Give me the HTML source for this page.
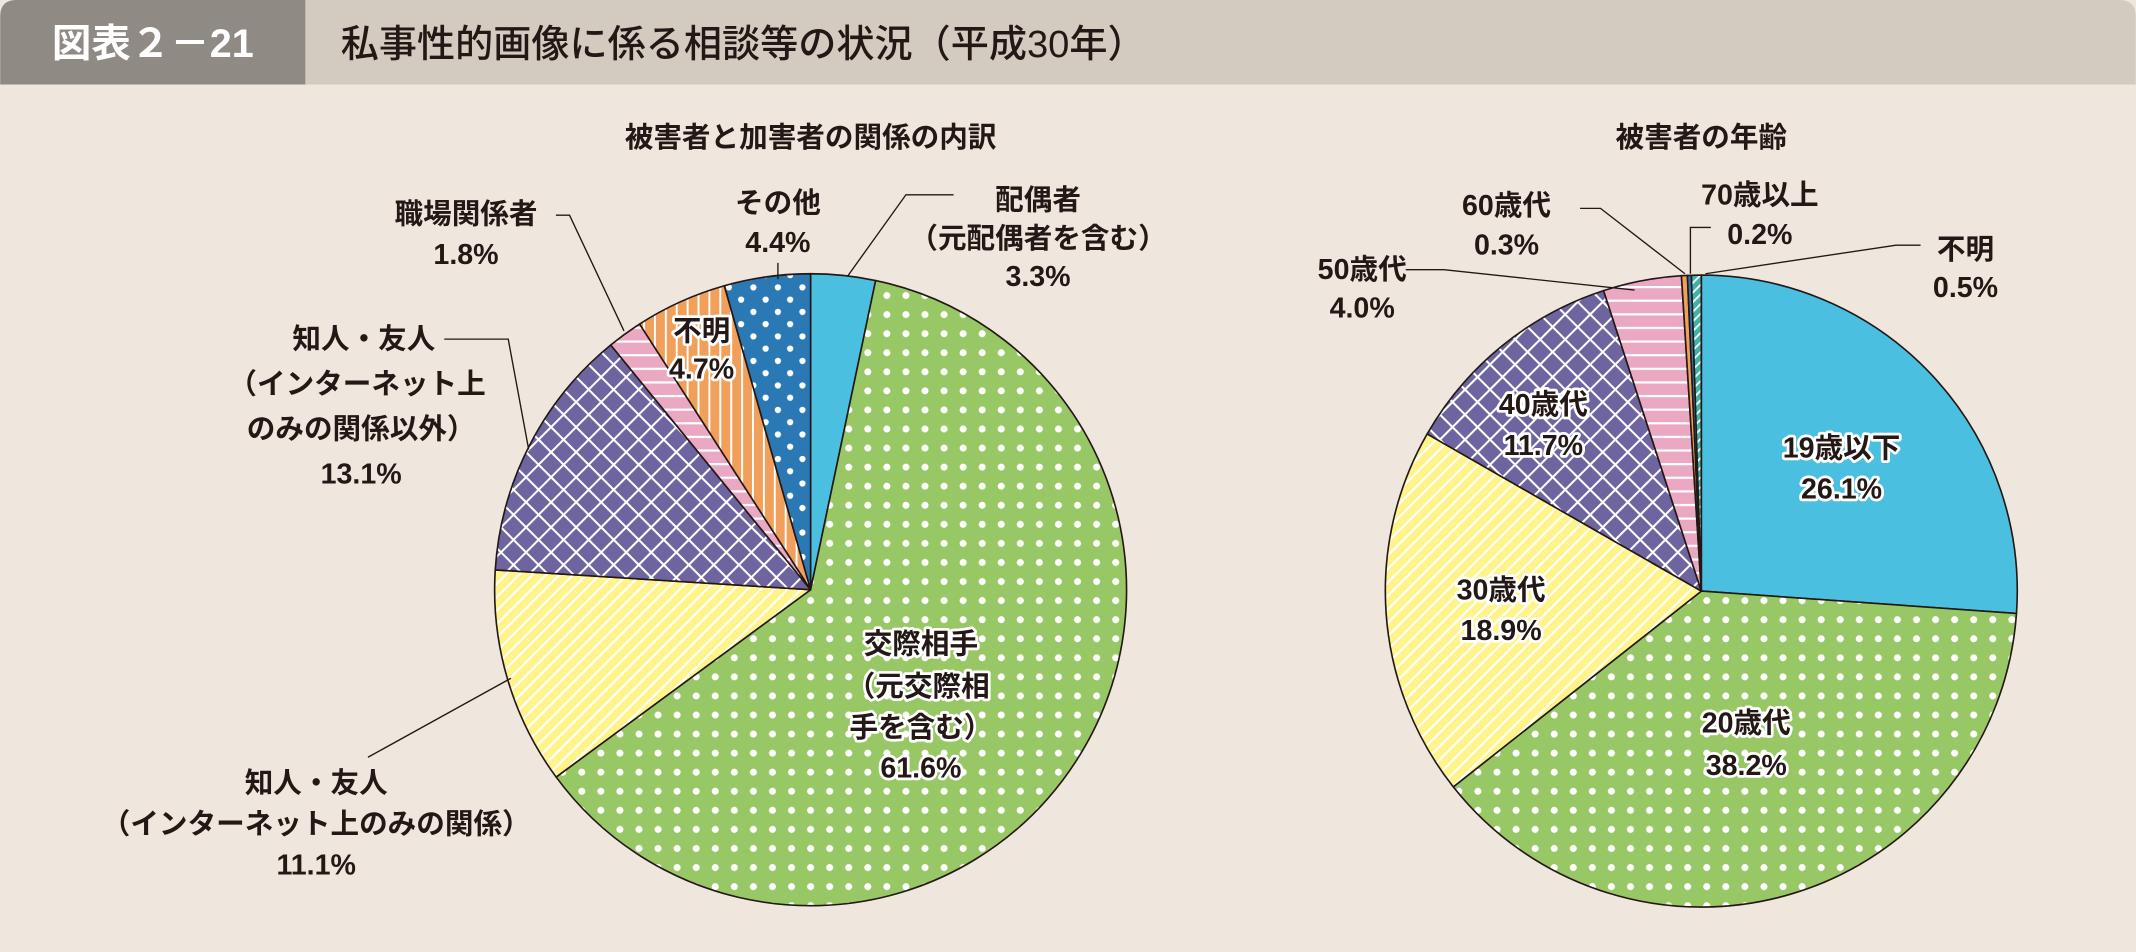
<!DOCTYPE html>
<html><head><meta charset="utf-8"><style>
html,body{margin:0;padding:0;background:#efe7de;}
svg{display:block;font-family:"Liberation Sans","Noto Sans CJK JP",sans-serif;}
.lb{font-size:21px;font-weight:700;fill:#231815;text-anchor:middle;}
.in{paint-order:stroke;stroke:#fff;stroke-width:4px;stroke-linejoin:round;}
.ld{fill:none;stroke:#231815;stroke-width:1;}
</style></head><body>
<svg id="chart" width="2136" height="952" viewBox="0 0 1568 699">
<defs>
<pattern id="pGreen" width="14" height="14" patternUnits="userSpaceOnUse"><rect width="14" height="14" fill="#98c766"/><circle cx="7" cy="7" r="2.6" fill="#fff"/></pattern>
<pattern id="pBlueDot" width="18" height="18" patternUnits="userSpaceOnUse"><rect width="18" height="18" fill="#2a79b4"/><circle cx="4" cy="4" r="2.3" fill="#fff"/><circle cx="13" cy="13" r="2.3" fill="#fff"/></pattern>
<pattern id="pYellow" width="7" height="7" patternUnits="userSpaceOnUse" patternTransform="rotate(45)"><rect width="7" height="7" fill="#fff38a"/><rect width="1.6" height="7" fill="#fff"/></pattern>
<pattern id="pPurple" width="13" height="13" patternUnits="userSpaceOnUse" patternTransform="rotate(45)"><rect width="13" height="13" fill="#6d64a0"/><rect width="1.5" height="13" fill="#fff"/><rect width="13" height="1.5" fill="#fff"/></pattern>
<pattern id="pPink" width="10" height="10" patternUnits="userSpaceOnUse"><rect width="10" height="10" fill="#eaa8c3"/><rect width="10" height="1.6" fill="#fff"/></pattern>
<pattern id="pOrange" width="8" height="8" patternUnits="userSpaceOnUse"><rect width="8" height="8" fill="#f0a05a"/><rect width="1.4" height="8" fill="#fff"/></pattern>
<pattern id="pTeal" width="5" height="5" patternUnits="userSpaceOnUse" patternTransform="rotate(45)"><rect width="5" height="5" fill="#3fb3a8"/><rect width="1.3" height="5" fill="#fff"/></pattern>
</defs>
<rect x="0" y="0" width="1568" height="699" fill="#efe7de"/>
<path d="M0,12 Q0,0 12,0 H1556 Q1568,0 1568,12 V62 H0 Z" fill="#d3cbc0"/>
<path d="M0,12 Q0,0 12,0 H224 V62 H0 Z" fill="#8f8a83"/>
<text x="112" y="42" font-size="29" font-weight="700" fill="#fff" text-anchor="middle">図表２－21</text>
<text x="250" y="42" font-size="28" font-weight="500" fill="#231815">私事性的画像に係る相談等の状況（平成30年）</text>
<text class="lb" x="595" y="108">被害者と加害者の関係の内訳</text>
<text class="lb" x="1249" y="108">被害者の年齢</text>
<g id="pieL"></g>
<g id="pieR"></g>
<g id="labels">
<polyline class="ld" points="700,143 665,143 622,203"/>
<polyline class="ld" points="571,193 571,205"/>
<polyline class="ld" points="408,158 418,158 458,243"/>
<polyline class="ld" points="326,249 373,249 388,330"/>
<polyline class="ld" points="270,556 375,498"/>
<polyline class="ld" points="1160,153 1175,153 1237,201"/>
<polyline class="ld" points="1256,167 1241,167 1241,201"/>
<polyline class="ld" points="1410,180 1392,180 1252,201"/>
<polyline class="ld" points="1032,198 1060,198 1200,213"/>
<text class="lb" x="762"><tspan x="762" y="154">配偶者</tspan><tspan x="762" y="182">（元配偶者を含む）</tspan><tspan x="762" y="210">3.3%</tspan></text>
<text class="lb"><tspan x="571" y="156">その他</tspan><tspan x="571" y="185">4.4%</tspan></text>
<text class="lb"><tspan x="342" y="164">職場関係者</tspan><tspan x="342" y="194">1.8%</tspan></text>
<text class="lb"><tspan x="267" y="256">知人・友人</tspan><tspan x="262" y="289">（インターネット上</tspan><tspan x="265" y="322">のみの関係以外）</tspan><tspan x="265" y="355">13.1%</tspan></text>
<text class="lb in"><tspan x="515" y="250">不明</tspan><tspan x="515" y="278">4.7%</tspan></text>
<text class="lb in"><tspan x="676" y="480">交際相手</tspan><tspan x="674" y="511">（元交際相</tspan><tspan x="676" y="541">手を含む）</tspan><tspan x="676" y="571">61.6%</tspan></text>
<text class="lb"><tspan x="232" y="582">知人・友人</tspan><tspan x="232" y="612">（インターネット上のみの関係）</tspan><tspan x="232" y="642">11.1%</tspan></text>
<text class="lb"><tspan x="1106" y="158">60歳代</tspan><tspan x="1106" y="187">0.3%</tspan></text>
<text class="lb"><tspan x="1292" y="150">70歳以上</tspan><tspan x="1292" y="179">0.2%</tspan></text>
<text class="lb"><tspan x="1443" y="190">不明</tspan><tspan x="1443" y="218">0.5%</tspan></text>
<text class="lb"><tspan x="1000" y="205">50歳代</tspan><tspan x="1000" y="233">4.0%</tspan></text>
<text class="lb in"><tspan x="1133" y="304">40歳代</tspan><tspan x="1133" y="334">11.7%</tspan></text>
<text class="lb in"><tspan x="1352" y="336">19歳以下</tspan><tspan x="1352" y="366">26.1%</tspan></text>
<text class="lb in"><tspan x="1102" y="440">30歳代</tspan><tspan x="1102" y="470">18.9%</tspan></text>
<text class="lb in"><tspan x="1282" y="538">20歳代</tspan><tspan x="1282" y="569">38.2%</tspan></text>
</g>
</svg>
<script>
const relCategories = ["配偶者", "交際相手", "知人・友人（ネットのみ）", "知人・友人（以外）", "職場関係者", "不明", "その他"];
const relValues = [3.3, 61.6, 11.1, 13.1, 1.8, 4.7, 4.4];
const ageCategories = ["19歳以下", "20歳代", "30歳代", "40歳代", "50歳代", "60歳代", "70歳以上", "不明"];
const ageValues = [26.1, 38.2, 18.9, 11.7, 4.0, 0.3, 0.2, 0.5];
const relFills = ["#4bbfe0","url(#pGreen)","url(#pYellow)","url(#pPurple)","url(#pPink)","url(#pOrange)","url(#pBlueDot)"];
const ageFills = ["#4bbfe0","url(#pGreen)","url(#pYellow)","url(#pPurple)","url(#pPink)","#f0a05a","#2a79b4","url(#pTeal)"];
const NS = "http://www.w3.org/2000/svg";
function drawPie(gid, cx, cy, r, vals, cats, fills, prefix){
  const g = document.getElementById(gid);
  const total = vals.reduce((a,b)=>a+b,0);
  let a0 = 0;
  vals.forEach((v,i)=>{
    const a1 = a0 + v/total*2*Math.PI;
    const x0 = cx + r*Math.sin(a0), y0 = cy - r*Math.cos(a0);
    const x1 = cx + r*Math.sin(a1), y1 = cy - r*Math.cos(a1);
    const large = (a1-a0) > Math.PI ? 1 : 0;
    const p = document.createElementNS(NS,"path");
    p.setAttribute("d", `M${cx},${cy} L${x0},${y0} A${r},${r} 0 ${large} 1 ${x1},${y1} Z`);
    p.setAttribute("fill", fills[i]);
    p.setAttribute("stroke", "#231815");
    p.setAttribute("stroke-width", "1.2");
    p.setAttribute("stroke-linejoin", "round");
    
    
    const t = document.createElementNS(NS,"title"); t.textContent = cats[i] + " " + v + "%"; p.appendChild(t);
    g.appendChild(p);
    a0 = a1;
  });
}
drawPie("pieL", 595, 433, 232, relValues, relCategories, relFills, "relationship");
drawPie("pieR", 1249, 434, 232, ageValues, ageCategories, ageFills, "age");
</script>
</body></html>
